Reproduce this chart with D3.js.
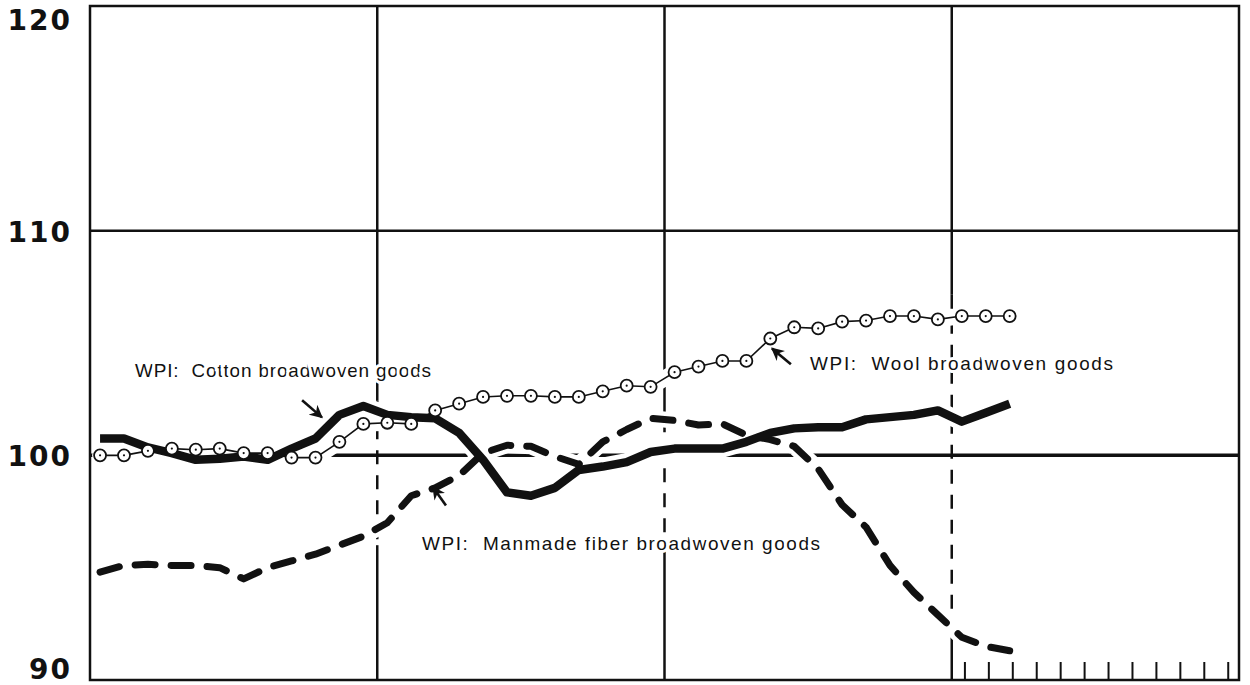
<!DOCTYPE html>
<html lang="en">
<head>
    <meta charset="UTF-8">
    <title>WPI broadwoven goods</title>
    <style>
        body {
            margin: 0;
            padding: 0;
            background-color: #fff;
        }
        svg {
            display: block;
        }
        .series-label {
            font-family: 'Liberation Sans', Arial, sans-serif;
            font-size: 19px;
            white-space: pre;
            fill: #111;
            stroke: #fff;
            stroke-width: 6px;
            paint-order: stroke;
        }
        .axis-label {
            font-family: 'DejaVu Sans', sans-serif;
            font-weight: bold;
            font-size: 28px;
            letter-spacing: 2px;
            fill: #111;
        }
    </style>
    <script src="https://d3js.org/d3.v7.min.js"></script>
</head>
<body>
    <div id="chart"></div>

    <script>
        // monthly index values, 4 years on the axis (48 months), data for first 39 months
        const cotton = [100.75, 100.75, 100.35, 100.1, 99.8, 99.85, 99.95, 99.8, 100.3, 100.75,
            101.8, 102.2, 101.8, 101.7, 101.65, 101.0, 99.8, 98.35, 98.2, 98.55,
            99.35, 99.5, 99.7, 100.15, 100.3, 100.3, 100.3, 100.6, 101.0, 101.2,
            101.25, 101.25, 101.6, 101.7, 101.8, 102.0, 101.5, 101.9, 102.3];

        const wool = [100.0, 100.0, 100.2, 100.3, 100.25, 100.3, 100.1, 100.1, 99.9, 99.9,
            100.6, 101.4, 101.45, 101.4, 102.0, 102.3, 102.6, 102.65, 102.65, 102.6,
            102.6, 102.85, 103.1, 103.05, 103.7, 103.95, 104.2, 104.2, 105.2, 105.7,
            105.65, 105.95, 106.0, 106.2, 106.2, 106.05, 106.2, 106.2, 106.2];

        const manmade = [94.8, 95.1, 95.15, 95.1, 95.1, 95.0, 94.5, 95.0, 95.3, 95.6,
            96.0, 96.4, 97.0, 98.2, 98.55, 99.1, 100.1, 100.45, 100.4, 99.95,
            99.6, 100.6, 101.15, 101.65, 101.55, 101.35, 101.4, 100.9, 100.7, 100.4,
            99.4, 97.8, 96.8, 95.1, 93.9, 92.9, 91.9, 91.5, 91.3];

        const yTicks = [90, 100, 110, 120];
        const yearBreaks = [12, 24, 36];
        // stretch of each year line drawn dashed (index values, top to bottom)
        const yearDash = [[102.45, 96.0], [101.65, 96.0], [107.15, 92.0]];

        // labels and arrows placed in data units (month, index value)
        const labels = [
            { text: "WPI:  Cotton broadwoven goods", m: 1.88, v: 103.47, len: 296 },
            { text: "WPI:  Wool broadwoven goods", m: 30.08, v: 103.78, len: 303 },
            { text: "WPI:  Manmade fiber broadwoven goods", m: 13.87, v: 95.77, len: 398 }
        ];
        const arrows = [
            { from: [8.86, 102.45], to: [9.69, 101.69] },
            { from: [29.28, 104.05], to: [28.49, 104.76] },
            { from: [14.87, 97.77], to: [14.33, 98.58] }
        ];

        const width = 1250;
        const height = 685;
        const plotLeft = 90, plotRight = 1239, plotTop = 6, plotBottom = 680;

        const x = d3.scaleLinear().domain([0, 48]).range([plotLeft, plotRight]);
        const y = d3.scaleLinear().domain([90, 120]).range([plotBottom, plotTop]);
        const px = i => x(i + 0.42);

        const svg = d3.select("#chart").append("svg")
            .attr("width", width)
            .attr("height", height);

        svg.append("defs").append("marker")
            .attr("id", "head")
            .attr("viewBox", "0 0 10 10")
            .attr("refX", "9")
            .attr("refY", "5")
            .attr("markerWidth", "5")
            .attr("markerHeight", "5")
            .attr("markerUnits", "strokeWidth")
            .attr("orient", "auto")
            .append("path")
            .attr("d", "M 0 0 L 10 5 L 0 10 L 3 5 z")
            .attr("fill", "#111");

        // grid
        const grid = svg.append("g").attr("stroke", "#111").attr("fill", "none");
        grid.selectAll("line.h")
            .data(yTicks.filter(d => d > 90 && d < 120))
            .join("line")
            .attr("class", "h")
            .attr("x1", plotLeft).attr("x2", plotRight)
            .attr("y1", d => y(d)).attr("y2", d => y(d))
            .attr("stroke-width", d => d === 100 ? 3.5 : 2.5);

        yearBreaks.forEach((m, k) => {
            const [hi, lo] = yearDash[k];
            grid.append("line")
                .attr("x1", x(m)).attr("x2", x(m))
                .attr("y1", plotTop).attr("y2", y(hi))
                .attr("stroke-width", 2.5);
            grid.append("line")
                .attr("x1", x(m)).attr("x2", x(m))
                .attr("y1", y(hi)).attr("y2", y(lo))
                .attr("stroke-width", 2.5)
                .attr("stroke-dasharray", "14 11");
            grid.append("line")
                .attr("x1", x(m)).attr("x2", x(m))
                .attr("y1", y(lo)).attr("y2", plotBottom)
                .attr("stroke-width", 2.5);
        });

        // month ticks in the last year
        grid.selectAll("line.t")
            .data(d3.range(12))
            .join("line")
            .attr("class", "t")
            .attr("x1", d => x(36 + d + 0.55)).attr("x2", d => x(36 + d + 0.55))
            .attr("y1", plotBottom).attr("y2", plotBottom - 18)
            .attr("stroke-width", 2);

        const line = d3.line().x((d, i) => px(i)).y(d => y(d));

        // white casings so the grid breaks around the curves
        const halo = svg.append("g").attr("fill", "none").attr("stroke", "#fff")
            .attr("stroke-linejoin", "round").attr("stroke-linecap", "round");
        halo.append("path").attr("d", line(cotton)).attr("stroke-width", 18);
        halo.append("path").attr("d", line(manmade)).attr("stroke-width", 16);
        halo.append("path").attr("d", line(wool)).attr("stroke-width", 16);

        // border
        svg.append("rect")
            .attr("x", plotLeft).attr("y", plotTop)
            .attr("width", plotRight - plotLeft).attr("height", plotBottom - plotTop)
            .attr("fill", "none").attr("stroke", "#111").attr("stroke-width", 2.5);

        // series
        svg.append("path")
            .attr("d", line(wool))
            .attr("fill", "none").attr("stroke", "#111").attr("stroke-width", 1.6);

        svg.append("path")
            .attr("d", line(manmade))
            .attr("fill", "none").attr("stroke", "#111").attr("stroke-width", 7)
            .attr("stroke-dasharray", "20 16")
            .attr("stroke-linecap", "round")
            .attr("stroke-linejoin", "round");

        svg.append("path")
            .attr("d", line(cotton))
            .attr("fill", "none").attr("stroke", "#111").attr("stroke-width", 8.5)
            .attr("stroke-linejoin", "round");

        const dots = svg.append("g");
        dots.selectAll("circle.o")
            .data(wool)
            .join("circle")
            .attr("class", "o")
            .attr("cx", (d, i) => px(i)).attr("cy", d => y(d))
            .attr("r", 6)
            .attr("fill", "#fff").attr("stroke", "#111").attr("stroke-width", 1.8);
        dots.selectAll("circle.c")
            .data(wool)
            .join("circle")
            .attr("class", "c")
            .attr("cx", (d, i) => px(i)).attr("cy", d => y(d))
            .attr("r", 1.1)
            .attr("fill", "#111");

        // labels
        svg.selectAll("text.series-label")
            .data(labels)
            .join("text")
            .attr("class", "series-label")
            .attr("x", d => x(d.m))
            .attr("y", d => y(d.v))
            .attr("textLength", d => d.len)
            .attr("lengthAdjust", "spacing")
            .text(d => d.text);

        svg.append("g").selectAll("line")
            .data(arrows)
            .join("line")
            .attr("x1", d => x(d.from[0])).attr("y1", d => y(d.from[1]))
            .attr("x2", d => x(d.to[0])).attr("y2", d => y(d.to[1]))
            .attr("stroke", "#111").attr("stroke-width", 2.6)
            .attr("marker-end", "url(#head)");

        // y axis labels
        svg.selectAll("text.axis-label")
            .data(yTicks)
            .join("text")
            .attr("class", "axis-label")
            .attr("x", 72)
            .attr("y", d => Math.max(30, Math.min(679, y(d) + 11)))
            .attr("text-anchor", "end")
            .text(d => d);
    </script>
</body>
</html>
